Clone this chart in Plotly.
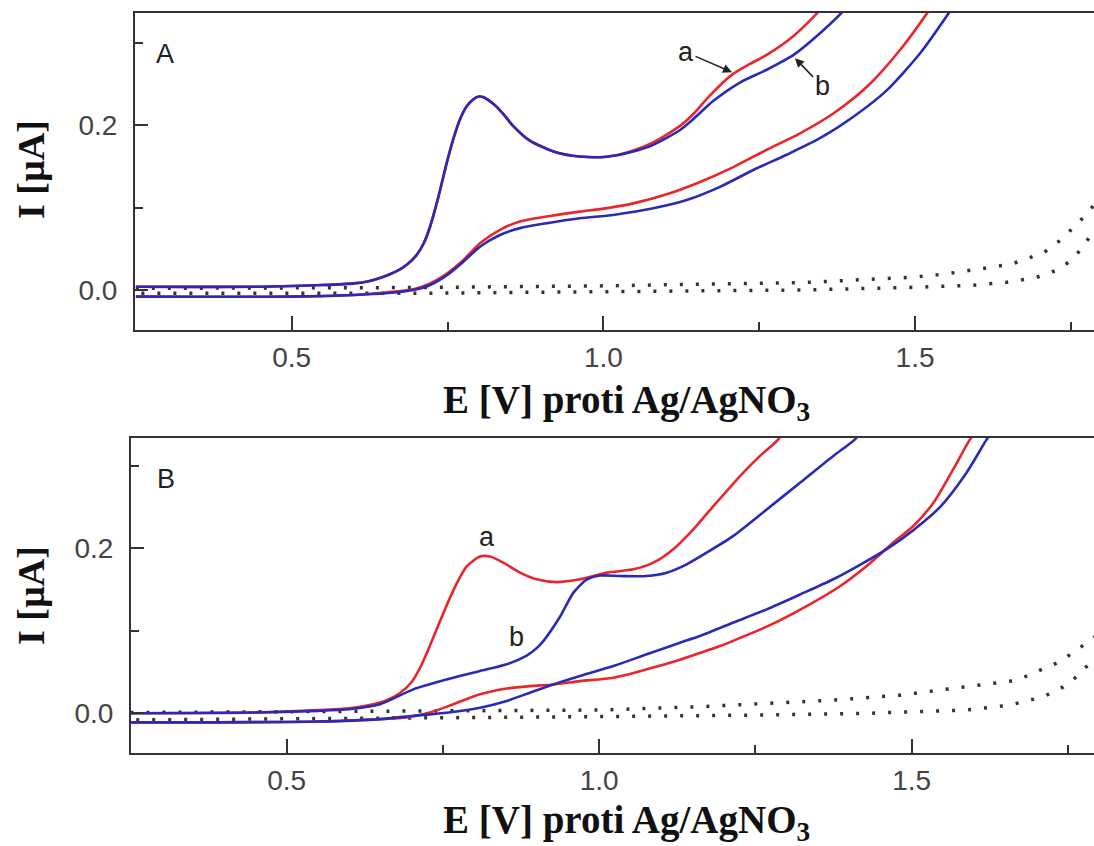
import plotly.graph_objects as go

# ---------------- Panel A data ----------------
# shared forward branch (a and b practically coincide up to ~1.0 V)
A_fwd_E = [0.25, 0.45, 0.55, 0.60, 0.625, 0.645, 0.67, 0.685, 0.70, 0.712, 0.722, 0.735, 0.749, 0.76,
           0.770, 0.781, 0.791, 0.800, 0.807, 0.815, 0.829, 0.842, 0.855, 0.882, 0.920, 0.962, 1.005]
A_fwd_I = [0.004, 0.004, 0.006, 0.008, 0.011, 0.0155, 0.0235, 0.031, 0.042, 0.057, 0.077, 0.112, 0.155, 0.185,
           0.207, 0.223, 0.231, 0.2345, 0.234, 0.2305, 0.222, 0.211, 0.199, 0.181, 0.168, 0.1618, 0.1616]

A_a_up_E = [1.043, 1.080, 1.123, 1.144, 1.171, 1.208, 1.235, 1.262, 1.305, 1.342, 1.37]
A_a_up_I = [0.168, 0.179, 0.199, 0.213, 0.236, 0.262, 0.274, 0.285, 0.308, 0.335, 0.36]
A_a_rev_E = [1.54, 1.5186, 1.4758, 1.4223, 1.3688, 1.3154, 1.262, 1.2084, 1.155, 1.1015, 1.048, 0.995,
             0.962, 0.909, 0.866, 0.834, 0.802, 0.775, 0.749, 0.722, 0.695, 0.65, 0.60, 0.50, 0.25]
A_a_rev_I = [0.36, 0.335, 0.291, 0.246, 0.214, 0.190, 0.170, 0.149, 0.131, 0.116, 0.105, 0.098,
             0.095, 0.089, 0.083, 0.073, 0.0566, 0.036, 0.020, 0.008, 0.001, -0.003, -0.006, -0.008, -0.008]

A_b_up_E = [1.043, 1.080, 1.123, 1.144, 1.176, 1.219, 1.262, 1.305, 1.347, 1.382, 1.41]
A_b_up_I = [0.167, 0.176, 0.194, 0.207, 0.229, 0.2515, 0.267, 0.285, 0.311, 0.336, 0.36]
A_b_rev_E = [1.575, 1.5533, 1.508, 1.4545, 1.401, 1.3475, 1.294, 1.2405, 1.187, 1.1336, 1.08, 1.016,
             0.962, 0.909, 0.866, 0.834, 0.802, 0.775, 0.749, 0.722, 0.695, 0.65, 0.60, 0.50, 0.25]
A_b_rev_I = [0.36, 0.335, 0.287, 0.242, 0.210, 0.184, 0.164, 0.1455, 0.125, 0.109, 0.099, 0.091,
             0.087, 0.081, 0.075, 0.0667, 0.0525, 0.034, 0.018, 0.006, 0.0, -0.004, -0.006, -0.008, -0.008]

A_blank_E = [0.25, 0.70, 1.00, 1.32, 1.4945, 1.548, 1.599, 1.655, 1.706, 1.730, 1.751, 1.774, 1.80,
             1.80, 1.784, 1.768, 1.751, 1.7275, 1.695, 1.647, 1.591, 1.543, 1.4865, 1.32, 1.00, 0.70, 0.25]
A_blank_I = [0.002, 0.003, 0.005, 0.009, 0.0154, 0.0194, 0.025, 0.0315, 0.045, 0.0586, 0.0735, 0.091, 0.115,
             0.09, 0.069, 0.051, 0.036, 0.024, 0.0154, 0.0093, 0.0057, 0.004, 0.003, 0.0, -0.002, -0.004, -0.004]

# ---------------- Panel B data ----------------
B_a_E = [0.25, 0.45, 0.55, 0.60, 0.6493, 0.68, 0.70, 0.7133, 0.727, 0.740, 0.7666, 0.788, 0.8093, 0.8253,
         0.8466, 0.8733, 0.900, 0.932, 0.9693, 1.012, 1.0546, 1.0866, 1.1186, 1.1506, 1.1826, 1.2306,
         1.2573, 1.2866, 1.31,
         1.62, 1.5933, 1.5666, 1.5346, 1.5026, 1.4706, 1.428, 1.3853, 1.332, 1.268, 1.2146, 1.1933,
         1.161, 1.1293, 1.076, 1.0226, 0.9693, 0.9266, 0.8893, 0.852, 0.8093, 0.7666, 0.7293, 0.692,
         0.6493, 0.55, 0.25]
B_a_I = [0.0, 0.001, 0.004, 0.006, 0.013, 0.024, 0.038, 0.055, 0.078, 0.102, 0.149, 0.178, 0.190, 0.190,
         0.1826, 0.1705, 0.1624, 0.159, 0.1624, 0.1705, 0.1745, 0.1826, 0.199, 0.223, 0.251, 0.2917,
         0.312, 0.332, 0.36,
         0.36, 0.332, 0.296, 0.255, 0.227, 0.207, 0.1785, 0.154, 0.130, 0.105, 0.088, 0.0815,
         0.0730, 0.0650, 0.0533, 0.0432, 0.039, 0.035, 0.033, 0.030, 0.023, 0.011, 0.001, -0.005,
         -0.007, -0.010, -0.011]

B_b_E = [0.25, 0.45, 0.55, 0.60, 0.6493, 0.7026, 0.756, 0.8093, 0.852, 0.884, 0.900, 0.9106, 0.9373, 0.9586,
         0.98, 1.0013, 1.0333, 1.076, 1.108, 1.14, 1.172, 1.2146, 1.268, 1.3213, 1.3746, 1.4093, 1.44,
         1.645, 1.62, 1.588, 1.5453, 1.5026, 1.46, 1.4173, 1.3746, 1.3213, 1.268, 1.2146, 1.161,
         1.1293, 1.076, 1.0226, 0.9693, 0.9266, 0.8893, 0.852, 0.8093, 0.756, 0.7026, 0.6493, 0.55, 0.25]
B_b_I = [0.0, 0.001, 0.003, 0.005, 0.011, 0.029, 0.041, 0.0513, 0.0594, 0.0700, 0.0790, 0.0875, 0.117, 0.146,
         0.162, 0.167, 0.1664, 0.1664, 0.1705, 0.1806, 0.1947, 0.215, 0.247, 0.2795, 0.312, 0.332, 0.36,
         0.36, 0.332, 0.292, 0.250, 0.222, 0.199, 0.180, 0.1625, 0.144, 0.126, 0.110, 0.0937,
         0.0856, 0.0715, 0.0573, 0.0452, 0.035, 0.025, 0.015, 0.0068, 0.0007, -0.003, -0.007, -0.010, -0.011]

B_blank_E = [0.25, 0.70, 1.0013, 1.161, 1.268, 1.3746, 1.4813, 1.588, 1.668, 1.7373, 1.764, 1.7906, 1.81,
             1.81, 1.785, 1.764, 1.7426, 1.7106, 1.657, 1.588, 1.428, 1.268, 1.0013, 0.70, 0.25]
B_blank_I = [0.001, 0.003, 0.004, 0.008, 0.012, 0.016, 0.022, 0.032, 0.040, 0.0626, 0.0767, 0.091, 0.105,
             0.075, 0.0606, 0.0444, 0.032, 0.020, 0.010, 0.004, 0.0, -0.002, -0.004, -0.006, -0.008]

x_ticks = [0.5, 1.0, 1.5]
x_ticktext = ["0.5", "1.0", "1.5"]
x_minor = [0.75, 1.25, 1.75]
y_ticks = [0.0, 0.2]
y_ticktext = ["0.0", "0.2"]
y_minor = [0.1, 0.3]

RED = "#e8262c"
BLUE = "#2a2ab8"
DOT = "#333333"
W, H = 1094, 846

fig = go.Figure()

def add_line(E, I, color, xa, ya, dash="solid", width=2.6, shape="spline"):
    fig.add_trace(go.Scatter(x=E, y=I, mode="lines", xaxis=xa, yaxis=ya,
                             line=dict(color=color, width=width, dash=dash, shape=shape, smoothing=0.7),
                             showlegend=False, hoverinfo="skip"))

# Panel A
add_line(A_blank_E, A_blank_I, DOT, "x", "y", dash="3px,13px", width=3.5, shape="linear")
add_line(A_fwd_E + A_a_up_E + A_a_rev_E, A_fwd_I + A_a_up_I + A_a_rev_I, RED, "x", "y")
add_line(A_fwd_E + A_b_up_E + A_b_rev_E, A_fwd_I + A_b_up_I + A_b_rev_I, BLUE, "x", "y")
# Panel B
add_line(B_blank_E, B_blank_I, DOT, "x2", "y2", dash="3px,13px", width=3.5, shape="linear")
add_line(B_a_E, B_a_I, RED, "x2", "y2")
add_line(B_b_E, B_b_I, BLUE, "x2", "y2")

tickfont = dict(family="Liberation Sans, Arial, sans-serif", size=28, color="#444444")
axcommon = dict(showgrid=False, zeroline=False, showline=True, linewidth=2, linecolor="#333333",
                ticks="inside", tickwidth=2, tickcolor="#333333", tickfont=tickfont)

xa = dict(axcommon, tickvals=x_ticks, ticktext=x_ticktext, ticklen=14, mirror=True,
          minor=dict(tickvals=x_minor, ticks="inside", ticklen=8, tickwidth=2, tickcolor="#333333"),
          ticklabelstandoff=1)
ya = dict(axcommon, tickvals=y_ticks, ticktext=y_ticktext, ticklen=13, mirror=False,
          minor=dict(tickvals=y_minor, ticks="inside", ticklen=8, tickwidth=2, tickcolor="#333333"),
          ticklabelstandoff=10)

fig.update_layout(
    width=W, height=H, margin=dict(l=0, r=0, t=0, b=0),
    paper_bgcolor="white", plot_bgcolor="white",
    xaxis=dict(xa, domain=[135 / W, 1], anchor="y", range=[0.2486, 1.787]),
    yaxis=dict(ya, domain=[1 - 330 / H, 1 - 13 / H], anchor="x", range=[-0.0485, 0.3358]),
    xaxis2=dict(xa, domain=[131 / W, 1], anchor="y2", range=[0.2509, 1.7917]),
    yaxis2=dict(ya, domain=[1 - 753 / H, 1 - 438 / H], anchor="x2", range=[-0.0481, 0.3337]),
)

xtitle_font = dict(family="Liberation Serif, Times New Roman, serif", size=39, color="#111111")
ytitle_font = dict(family="Liberation Serif, Times New Roman, serif", size=38, color="#111111")
label_font = dict(family="Liberation Sans, Arial, sans-serif", size=27, color="#222222")
ann = []
for ycen in (403, 822):
    ann.append(dict(text="<b>E [V] proti Ag/AgNO<sub>3</sub></b>", xref="paper", yref="paper",
                    x=626 / W, y=1 - ycen / H, xanchor="center", yanchor="middle",
                    showarrow=False, font=xtitle_font))
for ycen in (170, 596):
    ann.append(dict(text="<b>I [µA]</b>", xref="paper", yref="paper", x=31 / W, y=1 - ycen / H,
                    xanchor="center", yanchor="middle", textangle=-90, showarrow=False, font=ytitle_font))
ann.append(dict(text="A", xref="paper", yref="paper", x=165 / W, y=1 - 54 / H, xanchor="center",
                yanchor="middle", showarrow=False, font=label_font))
ann.append(dict(text="B", xref="paper", yref="paper", x=166 / W, y=1 - 479 / H, xanchor="center",
                yanchor="middle", showarrow=False, font=label_font))
# curve labels
ann.append(dict(text="a", xref="x", yref="y", x=1.2063, y=0.264, ax=-46, ay=-20, showarrow=True,
                arrowhead=2, arrowsize=1.2, arrowwidth=1.5, arrowcolor="#222222", font=label_font))
ann.append(dict(text="b", xref="x", yref="y", x=1.3074, y=0.281, ax=27, ay=28, showarrow=True,
                arrowhead=2, arrowsize=1.2, arrowwidth=1.5, arrowcolor="#222222", font=label_font))
ann.append(dict(text="a", xref="x2", yref="y2", x=0.8205, y=0.2137, showarrow=False, font=label_font))
ann.append(dict(text="b", xref="x2", yref="y2", x=0.8669, y=0.0925, showarrow=False, font=label_font))
fig.update_layout(annotations=ann)

fig.write_html("out.html")
